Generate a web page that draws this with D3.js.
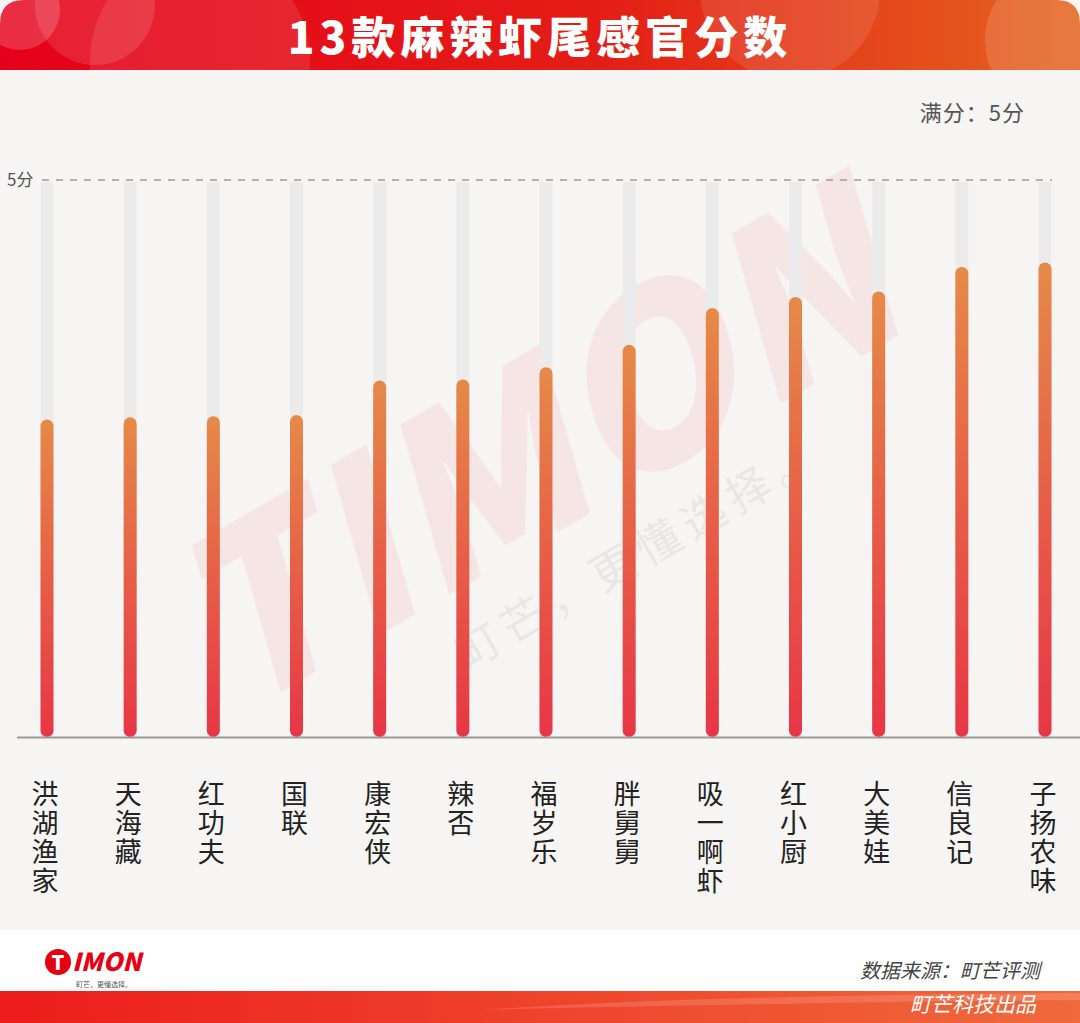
<!DOCTYPE html>
<html>
<head>
<meta charset="utf-8">
<script src="https://cdn.jsdelivr.net/npm/d3@7"></script>
<style>
  body { margin: 0; background: #fff; }
  #plot text { font-family: "Noto Sans CJK SC", "Noto Sans", sans-serif; }
</style>
</head>
<body>
<div id="plot"></div>
<script>
// data
const brands = ["洪湖渔家", "天海藏", "红功夫", "国联", "康宏侠", "辣否", "福岁乐",
                "胖舅舅", "吸一啊虾", "红小厨", "大美娃", "信良记", "子扬农味"];
const scores = [2.85, 2.87, 2.88, 2.89, 3.20, 3.21, 3.32, 3.52, 3.85, 3.95, 4.00, 4.22, 4.26];
const fullScore = 5;
const title = "13款麻辣虾尾感官分数";

const W = 1080, H = 1023;

const svg = d3.select("#plot").append("svg")
    .attr("width", W).attr("height", H);

const defs = svg.append("defs");

const gBanner = defs.append("linearGradient").attr("id", "banner");
gBanner.append("stop").attr("offset", "0%").attr("stop-color", "#e5001a");
gBanner.append("stop").attr("offset", "55%").attr("stop-color", "#e41d16");
gBanner.append("stop").attr("offset", "100%").attr("stop-color", "#e4651f");

const gBar = defs.append("linearGradient").attr("id", "bar")
    .attr("x1", 0).attr("y1", 0).attr("x2", 0).attr("y2", 1);
gBar.append("stop").attr("offset", "0%").attr("stop-color", "#e58a48");
gBar.append("stop").attr("offset", "55%").attr("stop-color", "#e75a47");
gBar.append("stop").attr("offset", "100%").attr("stop-color", "#e73646");

const gFoot = defs.append("linearGradient").attr("id", "foot");
gFoot.append("stop").attr("offset", "0%").attr("stop-color", "#ec1c1c");
gFoot.append("stop").attr("offset", "100%").attr("stop-color", "#f06a3c");

defs.append("clipPath").attr("id", "bannerClip")
  .append("path")
    .attr("d", "M0,70 V24 Q0,0 24,0 H1056 Q1080,0 1080,24 V70 Z");

// page background
svg.append("rect").attr("width", W).attr("height", H).attr("fill", "#f7f5f3");

// title banner
const banner = svg.append("g").attr("clip-path", "url(#bannerClip)");
banner.append("rect").attr("width", W).attr("height", 70).attr("fill", "url(#banner)");
[[20, 10, 40, 0.18], [95, 5, 60, 0.12], [200, 60, 110, 0.10], [790, -10, 90, 0.10],
 [1060, 40, 75, 0.14]].forEach(function(c) {
    banner.append("circle").attr("cx", c[0]).attr("cy", c[1]).attr("r", c[2])
        .attr("fill", "#fff").attr("opacity", c[3]);
});
banner.append("text")
    .attr("x", W / 2).attr("y", 54)
    .attr("text-anchor", "middle")
    .attr("fill", "#fff")
    .attr("font-size", 44).attr("font-weight", 900)
    .attr("letter-spacing", 5)
    .text(title);

// watermark
const wm = svg.append("g").attr("transform", "translate(545,470) rotate(-30)");
wm.append("text")
    .attr("text-anchor", "middle").attr("y", 60)
    .attr("font-size", 230).attr("font-weight", 900).attr("font-style", "italic")
    .attr("fill", "#e60012").attr("opacity", 0.06)
    .text("TIMON");
wm.append("text")
    .attr("text-anchor", "middle").attr("x", 40).attr("y", 135)
    .attr("font-size", 44)
    .attr("fill", "#000").attr("opacity", 0.05)
    .attr("letter-spacing", 8)
    .text("町芒，更懂选择。");

// scales
const x = d3.scalePoint().domain(brands).range([47, 1045]);
const y = d3.scaleLinear().domain([0, fullScore]).range([737, 180]);
const barW = 13;

// full score line
svg.append("line")
    .attr("x1", 42).attr("x2", 1052)
    .attr("y1", y(fullScore)).attr("y2", y(fullScore))
    .attr("stroke", "#9c9c9c").attr("stroke-width", 1.5)
    .attr("stroke-dasharray", "7,7");
svg.append("text")
    .attr("x", 7).attr("y", y(fullScore) + 6)
    .attr("font-size", 17).attr("fill", "#555")
    .text(fullScore + "分");
svg.append("text")
    .attr("x", 1025).attr("y", 121)
    .attr("text-anchor", "end")
    .attr("font-size", 22).attr("fill", "#555")
    .attr("letter-spacing", 1)
    .text("满分：" + fullScore + "分");

// tracks
svg.selectAll(".track").data(brands).enter()
  .append("rect").attr("class", "track")
    .attr("x", function(d) { return x(d) - barW / 2; })
    .attr("y", y(fullScore) + 2)
    .attr("width", barW)
    .attr("height", y(0) - y(fullScore) - 2)
    .attr("fill", "#ebebeb");

// bars
svg.selectAll(".bar").data(scores).enter()
  .append("rect").attr("class", "bar")
    .attr("x", function(d, i) { return x(brands[i]) - barW / 2; })
    .attr("y", function(d) { return y(d); })
    .attr("width", barW)
    .attr("height", function(d) { return y(0) - y(d); })
    .attr("rx", barW / 2)
    .attr("fill", "url(#bar)");

// baseline
svg.append("line")
    .attr("x1", 17).attr("x2", W)
    .attr("y1", y(0) + 0.5).attr("y2", y(0) + 0.5)
    .attr("stroke", "#9a9a9a").attr("stroke-width", 2);

// vertical category labels
svg.selectAll(".lab").data(brands).enter()
  .append("text").attr("class", "lab")
    .attr("x", function(d) { return x(d) - 2; })
    .attr("y", 780)
    .attr("writing-mode", "vertical-rl")
    .attr("letter-spacing", 2)
    .attr("font-size", 27).attr("fill", "#222")
    .text(function(d) { return d; });

// footer
svg.append("rect").attr("y", 930).attr("width", W).attr("height", 61).attr("fill", "#fff");
svg.append("rect").attr("y", 991).attr("width", W).attr("height", 32).attr("fill", "url(#foot)");
svg.append("path")
    .attr("d", "M480,1010 Q700,995 1080,993 L1080,1000 Q760,1003 480,1010 Z")
    .attr("fill", "#fff").attr("opacity", 0.15);

// logo
svg.append("circle").attr("cx", 58).attr("cy", 962).attr("r", 13).attr("fill", "#e60012");
svg.append("text")
    .attr("x", 58).attr("y", 970).attr("text-anchor", "middle")
    .attr("font-size", 20).attr("font-weight", 900).attr("fill", "#fff")
    .text("T");
svg.append("text")
    .attr("x", 72).attr("y", 971)
    .attr("font-size", 25).attr("font-weight", 900).attr("font-style", "italic")
    .attr("fill", "#e60012")
    .text("IMON");
svg.append("text")
    .attr("x", 76).attr("y", 987)
    .attr("font-size", 7).attr("fill", "#555")
    .text("町芒，更懂选择。");

svg.append("text")
    .attr("x", 1040).attr("y", 978).attr("text-anchor", "end")
    .attr("font-size", 20).attr("font-style", "italic").attr("fill", "#444")
    .text("数据来源：町芒评测");
svg.append("text")
    .attr("x", 1036).attr("y", 1012).attr("text-anchor", "end")
    .attr("font-size", 21).attr("font-style", "italic").attr("fill", "#fff")
    .text("町芒科技出品");
</script>
</body>
</html>
